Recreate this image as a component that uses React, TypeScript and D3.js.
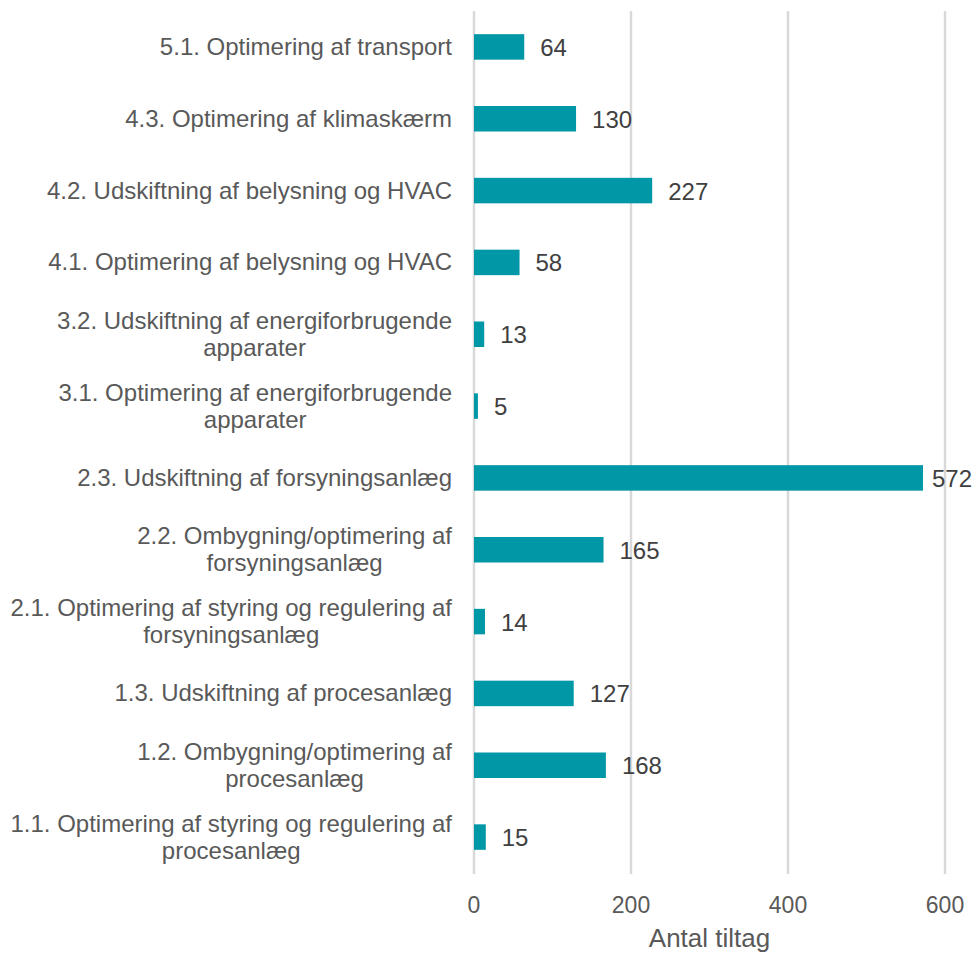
import { useEffect, useRef } from "react";
import { scaleBand, scaleLinear, select } from "d3";

// categories, top to bottom ("\n" marks a line break in the label)
const categories = [
  "5.1. Optimering af transport",
  "4.3. Optimering af klimaskærm",
  "4.2. Udskiftning af belysning og HVAC",
  "4.1. Optimering af belysning og HVAC",
  "3.2. Udskiftning af energiforbrugende\napparater",
  "3.1. Optimering af energiforbrugende\napparater",
  "2.3. Udskiftning af forsyningsanlæg",
  "2.2. Ombygning/optimering af\nforsyningsanlæg",
  "2.1. Optimering af styring og regulering af\nforsyningsanlæg",
  "1.3. Udskiftning af procesanlæg",
  "1.2. Ombygning/optimering af\nprocesanlæg",
  "1.1. Optimering af styring og regulering af\nprocesanlæg",
];
const values = [64, 130, 227, 58, 13, 5, 572, 165, 14, 127, 168, 15];
const xTicks = [0, 200, 400, 600];
const xTitle = "Antal tiltag";

const FONT = "'Liberation Sans', Arial, sans-serif";

export default function App() {
  const labelsRef = useRef(null);

  const x = scaleLinear().domain([0, 600]).range([474, 945]);
  const y = scaleBand()
    .domain(categories)
    .range([11, 873])
    .paddingInner(0.645)
    .paddingOuter(0.3225);

  const labelRight = 452;
  const lineGap = 27;

  // center multi-line labels on each other, right-aligned as a block
  useEffect(() => {
    if (!labelsRef.current) return;
    select(labelsRef.current)
      .selectAll("text.cat")
      .each(function () {
        const t = select(this);
        const spans = t.selectAll("tspan").nodes();
        const widest = Math.max(...spans.map((s) => s.getComputedTextLength()));
        t.attr("text-anchor", "middle");
        t.selectAll("tspan").attr("x", labelRight - widest / 2);
      });
  }, []);

  return (
    <svg
      width={975}
      height={953}
      style={{ position: "absolute", left: 0, top: 0, background: "#fff" }}
      fontFamily={FONT}
    >
      {/* gridlines */}
      {xTicks.map((t) => (
        <line
          key={`grid-${t}`}
          x1={x(t)}
          x2={x(t)}
          y1={11}
          y2={874}
          stroke="#d9d9d9"
          strokeWidth={2.5}
        />
      ))}

      {/* bars */}
      {categories.map((c, i) => (
        <g key={`bar-${c}`}>
          <rect
            x={x(0)}
            y={y(c)}
            width={x(values[i]) - x(0)}
            height={y.bandwidth()}
            fill="#0097a7"
          />
          <text
            x={Math.min(x(values[i]) + 16, 932)}
            y={y(c) + y.bandwidth() / 2 + 9}
            fontSize={24}
            fill="#404040"
          >
            {values[i]}
          </text>
        </g>
      ))}

      {/* category labels */}
      <g ref={labelsRef}>
        {categories.map((c) => {
          const lines = c.split("\n");
          const mid = y(c) + y.bandwidth() / 2;
          return (
            <text
              key={`lab-${c}`}
              className="cat"
              textAnchor="end"
              fontSize={24}
              fill="#595959"
            >
              {lines.map((l, j) => (
                <tspan
                  key={j}
                  x={labelRight}
                  y={mid + 8 + (j - (lines.length - 1) / 2) * lineGap}
                >
                  {l}
                </tspan>
              ))}
            </text>
          );
        })}
      </g>

      {/* x axis tick labels */}
      {xTicks.map((t) => (
        <text
          key={`tick-${t}`}
          x={x(t)}
          y={913}
          textAnchor="middle"
          fontSize={23}
          fill="#595959"
        >
          {t}
        </text>
      ))}
      <text
        x={(x(0) + x(600)) / 2}
        y={947}
        textAnchor="middle"
        fontSize={26}
        fill="#595959"
      >
        {xTitle}
      </text>
    </svg>
  );
}
